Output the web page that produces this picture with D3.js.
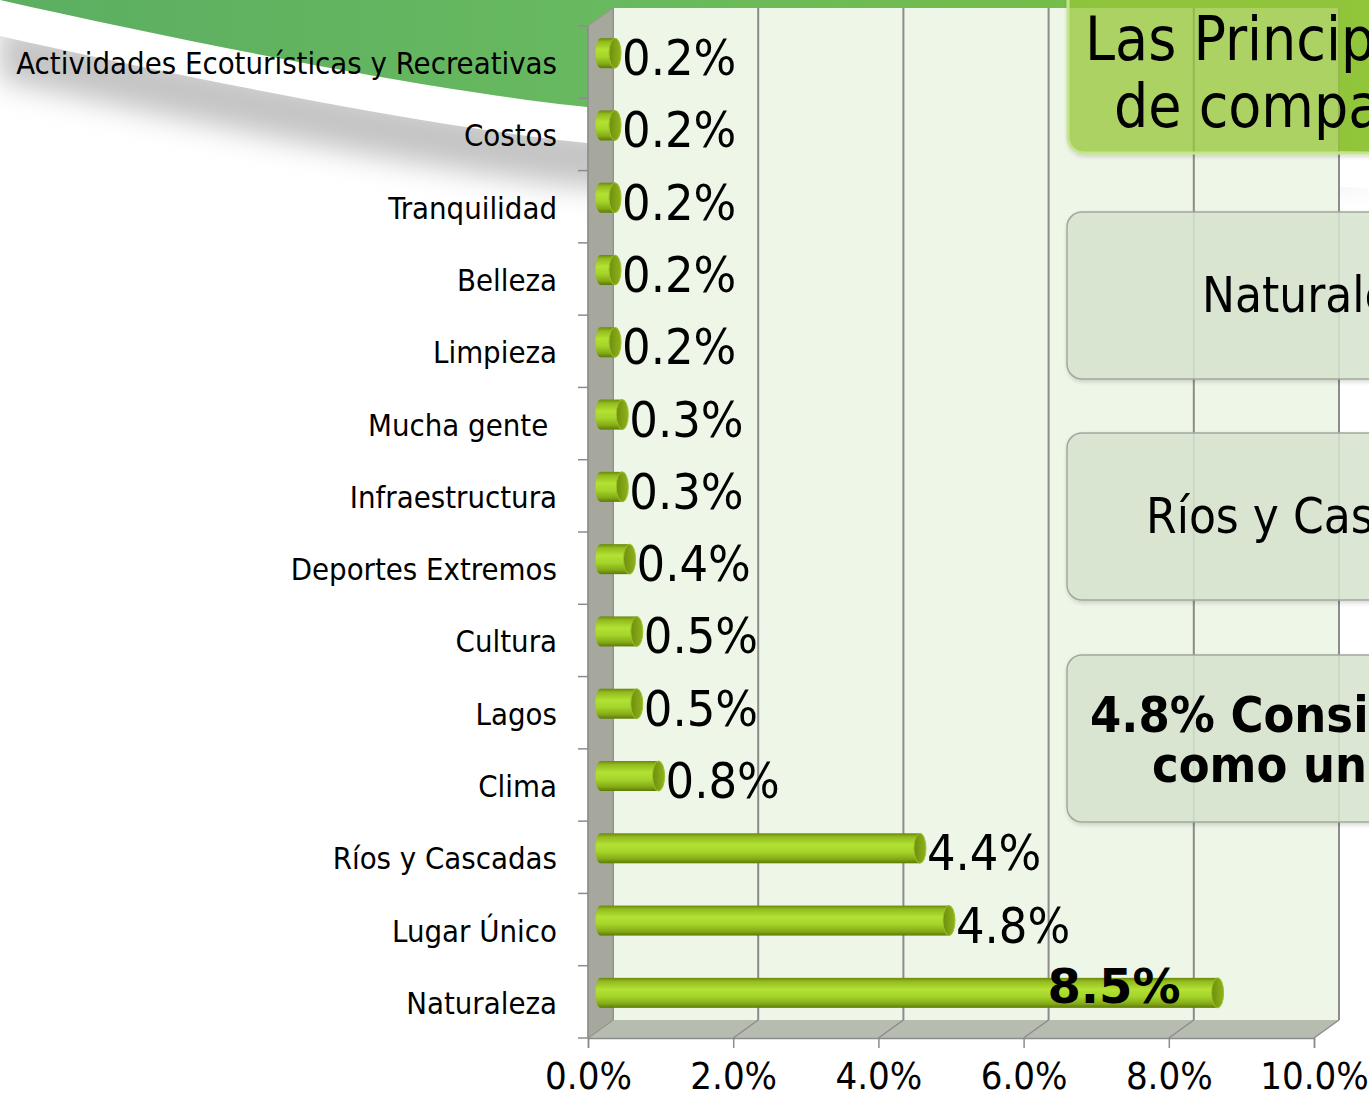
<!DOCTYPE html>
<html>
<head>
<meta charset="utf-8">
<script src="https://cdn.jsdelivr.net/npm/d3@7"></script>
<style>
  body { margin: 0; background: #fff; }
  svg { display: block; font-family: "DejaVu Sans Condensed", "DejaVu Sans", sans-serif; }
  .cat { white-space: pre; }
</style>
</head>
<body>
<div id="chart"></div>
<script>
// data, top row first
const categories = ["Actividades Ecoturísticas y Recreativas", "Costos", "Tranquilidad", "Belleza",
  "Limpieza", "Mucha gente ", "Infraestructura", "Deportes Extremos", "Cultura", "Lagos",
  "Clima", "Ríos y Cascadas", "Lugar Único", "Naturaleza"];
const values = [0.2, 0.2, 0.2, 0.2, 0.2, 0.3, 0.3, 0.4, 0.5, 0.5, 0.8, 4.4, 4.8, 8.5];
const xTicks = [0, 2, 4, 6, 8, 10];
const highlight = "Naturaleza";

// callout texts (cut off by the right edge in the slide)
const titleLines = ["Las Princip", "de compa"];
const boxTexts = ["Naturale", "Ríos y Casc"];
const noteLines = ["4.8% Consi", "como un"];

const width = 1369, height = 1104;
const depth = { dx: 25, dy: -18 };

const svg = d3.select("#chart").append("svg")
  .attr("width", width).attr("height", height);

const defs = svg.append("defs");

const swooshGrad = defs.append("linearGradient").attr("id", "swoosh");
swooshGrad.append("stop").attr("offset", "0%").attr("stop-color", "#5cae62");
swooshGrad.append("stop").attr("offset", "45%").attr("stop-color", "#68b95f");
swooshGrad.append("stop").attr("offset", "100%").attr("stop-color", "#7fc03a");

const barGrad = defs.append("linearGradient").attr("id", "barGrad")
  .attr("x1", 0).attr("y1", 0).attr("x2", 0).attr("y2", 1);
[["0%", "#6a880a"], ["12%", "#92bb1d"], ["38%", "#b3e134"], ["62%", "#a5d52b"],
 ["86%", "#84aa16"], ["100%", "#5c7a06"]].forEach(s =>
  barGrad.append("stop").attr("offset", s[0]).attr("stop-color", s[1]));

const capGrad = defs.append("linearGradient").attr("id", "capGrad")
  .attr("x1", 0).attr("y1", 0).attr("x2", 1).attr("y2", 0);
capGrad.append("stop").attr("offset", "0%").attr("stop-color", "#6e8f0c");
capGrad.append("stop").attr("offset", "100%").attr("stop-color", "#8fb21d");

defs.append("filter").attr("id", "blur").attr("x", "-20%").attr("y", "-50%")
  .attr("width", "140%").attr("height", "200%")
  .append("feGaussianBlur").attr("stdDeviation", 14);

const shadowF = defs.append("filter").attr("id", "boxShadow")
  .attr("x", "-10%").attr("y", "-10%").attr("width", "130%").attr("height", "130%");
shadowF.append("feDropShadow").attr("dx", 1).attr("dy", 2).attr("stdDeviation", 2)
  .attr("flood-color", "#000").attr("flood-opacity", 0.18);

// background swoosh: lower green edge, shifted down for ribbon and shadow
function edge(o) {
  return `M0,${o} C200,${45 + o} 440,${92 + o} 587,${107 + o} C700,${122 + o} 1000,${140 + o} 1369,${152 + o}`;
}
function edgeBack(o, oRight) {
  return `L1369,${152 + oRight} C1000,${140 + oRight} 700,${122 + o} 587,${107 + o} C440,${92 + o} 200,${45 + o} 0,${o} Z`;
}
svg.append("path")
  .attr("d", edge(22) + edgeBack(80, 28))
  .attr("fill", "#c4c4c4").attr("filter", "url(#blur)");
svg.append("path")
  .attr("d", edge(0) + edgeBack(36, 36))
  .attr("fill", "#fff");
svg.append("path")
  .attr("d", "M0,0 H1369 V152 C1000,140 700,122 587,107 C440,92 200,45 0,0 Z")
  .attr("fill", "url(#swoosh)");

// scales
const x = d3.scaleLinear().domain([0, 10]).range([588, 1314]);
const y = d3.scaleBand().domain(categories).range([26, 1038]);
const floorY = y.range()[1];
const topY = y.range()[0];

// back wall
svg.append("rect")
  .attr("x", x(0) + depth.dx).attr("y", topY + depth.dy)
  .attr("width", x(10) - x(0)).attr("height", floorY - topY)
  .attr("fill", "#eef6e8");

svg.selectAll(".grid").data(xTicks).enter().append("line")
  .attr("x1", d => x(d) + depth.dx).attr("x2", d => x(d) + depth.dx)
  .attr("y1", topY + depth.dy).attr("y2", floorY + depth.dy)
  .attr("stroke", "#8c8c8c").attr("stroke-width", 2);

// floor
svg.append("polygon")
  .attr("points", [[x(0), floorY], [x(10), floorY], [x(10) + depth.dx, floorY + depth.dy],
    [x(0) + depth.dx, floorY + depth.dy]].map(p => p.join(",")).join(" "))
  .attr("fill", "#b7bcb1");
svg.selectAll(".floorTick").data(xTicks).enter().append("line")
  .attr("x1", d => x(d)).attr("y1", floorY)
  .attr("x2", d => x(d) + depth.dx).attr("y2", floorY + depth.dy)
  .attr("stroke", "#8c8c8c").attr("stroke-width", 1.5);

// left wall
svg.append("polygon")
  .attr("points", [[x(0), topY], [x(0) + depth.dx, topY + depth.dy],
    [x(0) + depth.dx, floorY + depth.dy], [x(0), floorY]].map(p => p.join(",")).join(" "))
  .attr("fill", "#a6a89e").attr("stroke", "#95978e").attr("stroke-width", 1);

// axes
const xAxis = svg.append("g").attr("transform", `translate(0,${floorY})`)
  .call(d3.axisBottom(x).tickValues(xTicks).tickSize(10).tickPadding(14)
    .tickFormat(d => d.toFixed(1) + "%"));
xAxis.select(".domain").attr("stroke", "#8c8c8c").attr("stroke-width", 1.5);
xAxis.selectAll(".tick line").attr("stroke", "#8c8c8c").attr("stroke-width", 1.5);
xAxis.selectAll(".tick text")
  .attr("font-family", "'DejaVu Sans Condensed', 'DejaVu Sans', sans-serif")
  .attr("font-size", 38).attr("fill", "#000").attr("dy", "0.72em");

const boundaries = categories.map(c => y(c)).concat([floorY]);
svg.selectAll(".ytick").data(boundaries).enter().append("line")
  .attr("x1", x(0) - 10).attr("x2", x(0))
  .attr("y1", d => d).attr("y2", d => d)
  .attr("stroke", "#8c8c8c").attr("stroke-width", 1.5);
svg.append("line")
  .attr("x1", x(0)).attr("x2", x(0)).attr("y1", topY).attr("y2", floorY)
  .attr("stroke", "#8c8c8c").attr("stroke-width", 1.5);

svg.selectAll(".cat").data(categories).enter().append("text")
  .attr("class", "cat")
  .attr("x", 557)
  .attr("y", d => y(d) + y.bandwidth() / 2 + 12)
  .attr("text-anchor", "end")
  .attr("font-size", 30.8)
  .attr("fill", "#000")
  .text(d => d);

// cylinders
const barH = 30;
const rows = categories.map((c, i) => ({ cat: c, v: values[i] }));
const bx0 = x(0) + depth.dx / 2;
const cyOf = d => y(d.cat) + y.bandwidth() / 2 + depth.dy / 2;
const bx1 = d => x(d.v) + depth.dx / 2;

const bars = svg.selectAll(".bar").data(rows).enter().append("g");
bars.append("ellipse")
  .attr("cx", bx0).attr("cy", cyOf).attr("rx", 5).attr("ry", barH / 2)
  .attr("fill", "url(#barGrad)");
bars.append("rect")
  .attr("x", bx0).attr("y", d => cyOf(d) - barH / 2)
  .attr("width", d => bx1(d) - bx0).attr("height", barH)
  .attr("fill", "url(#barGrad)");
bars.append("ellipse")
  .attr("cx", bx1).attr("cy", cyOf).attr("rx", 6).attr("ry", barH / 2)
  .attr("fill", "url(#capGrad)").attr("stroke", "#9cc22a").attr("stroke-width", 1);

// value labels
svg.selectAll(".val").data(rows).enter().append("text")
  .attr("x", d => d.cat === highlight ? bx1(d) - 37 : bx1(d) + 7)
  .attr("y", d => y(d.cat) + y.bandwidth() / 2 + (d.cat === highlight ? 1 : 13))
  .attr("text-anchor", d => d.cat === highlight ? "end" : "start")
  .attr("font-family", d => d.cat === highlight ? "'DejaVu Sans', sans-serif" : null)
  .attr("font-size", d => d.cat === highlight ? 48 : 50)
  .attr("font-weight", d => d.cat === highlight ? "bold" : "normal")
  .attr("fill", "#000")
  .text(d => d.v.toFixed(1) + "%");

// callouts over the right side
svg.append("rect")
  .attr("x", 1068).attr("y", -30).attr("width", 360).attr("height", 183).attr("rx", 16)
  .attr("fill", "#9acb3c").attr("fill-opacity", 0.72)
  .attr("stroke", "#c4e68a").attr("stroke-width", 3)
  .attr("filter", "url(#boxShadow)");
svg.selectAll(".title").data(titleLines).enter().append("text")
  .attr("x", (d, i) => i === 0 ? 1085 : 1114)
  .attr("y", (d, i) => 60 + i * 67)
  .attr("font-size", 60).attr("fill", "#000")
  .text(d => d);

const boxTops = [212, 433, 655];
svg.selectAll(".box").data(boxTops).enter().append("rect")
  .attr("x", 1067).attr("y", d => d).attr("width", 340).attr("height", 167).attr("rx", 15)
  .attr("fill", "#d9e5d0").attr("fill-opacity", 0.86)
  .attr("stroke", "#a0a89c").attr("stroke-width", 1.5)
  .attr("filter", "url(#boxShadow)");

svg.selectAll(".boxText").data(boxTexts).enter().append("text")
  .attr("x", (d, i) => i === 0 ? 1202 : 1146)
  .attr("y", (d, i) => boxTops[i] + 100)
  .attr("font-size", 49).attr("fill", "#000")
  .text(d => d);

svg.selectAll(".note").data(noteLines).enter().append("text")
  .attr("x", (d, i) => i === 0 ? 1090 : 1152)
  .attr("y", (d, i) => boxTops[2] + 77 + i * 50)
  .attr("font-size", 50).attr("font-weight", "bold").attr("fill", "#000")
  .text(d => d);
</script>
</body>
</html>
